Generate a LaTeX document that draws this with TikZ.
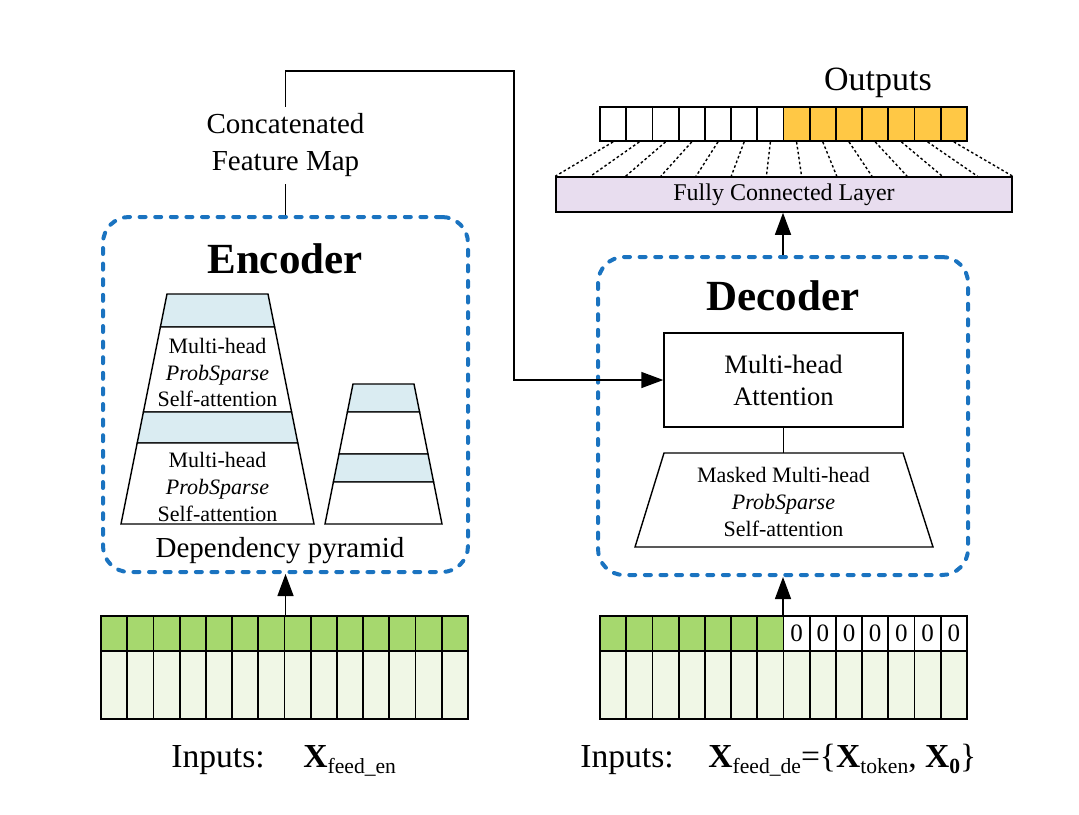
\documentclass[tikz,border=0pt]{standalone}
\usepackage{fontspec}
\setmainfont{Liberation Serif}
\usetikzlibrary{arrows.meta,positioning,calc,fit}
\definecolor{BoxBlue}{HTML}{1A73C0}
\definecolor{BandBlue}{HTML}{DAECF2}
\definecolor{FCLilac}{HTML}{E8DDEF}
\definecolor{OutGold}{HTML}{FFC845}
\definecolor{InGreen}{HTML}{A6D86E}
\definecolor{InPale}{HTML}{F0F7E6}
\newcommand{\xsub}[1]{\raisebox{-3pt}{\fontsize{10.8}{12}\selectfont #1}}

\begin{document}
\begin{tikzpicture}[x=0.5pt,y=-0.5pt,
    blk/.style={
      draw=BoxBlue,
      line width=2pt,
      line cap=round,
      dash pattern=on 3pt off 4.8pt,
      rounded corners=13pt,
      inner sep=0pt
    },
    cell/.style={draw, line width=0.9pt, minimum width=13.1pt, inner sep=0pt},
    layer/.style={draw, line width=0.7pt},
    link/.style={line width=0.7pt},
    arr/.style={link, -{Triangle[length=11pt,width=8pt]}},
    lbl/.style={font=\fontsize{14.5}{18.5}\selectfont, align=center},
    smalltxt/.style={font=\fontsize{11}{13.3}\selectfont, align=center},
    headtxt/.style={font=\bfseries\fontsize{21.5}{24}\selectfont},
    inptxt/.style={font=\fontsize{16.8}{20}\selectfont}
  ]
  \useasboundingbox (0,0) rectangle (1079,814);

  % Encoder
  \node[blk, fit={(103,217) (468,572)}] (enc) {};
  \node[headtxt] (enctitle) at (285,259) {Encoder};
  \foreach \cx/\hw/\yt/\ya/\yb/\c in {
      217.5/50.5/294/294/327/BandBlue, 217.5/50.5/294/327/412/white,
      217.5/50.5/294/412/443/BandBlue, 217.5/50.5/294/443/524/white,
      383.5/30.5/384/384/412/BandBlue, 383.5/30.5/384/412/454/white,
      383.5/30.5/384/454/482/BandBlue, 383.5/30.5/384/482/524/white}{
    \filldraw[layer, fill=\c]
      ({\cx-\hw-0.2*(\ya-\yt)},\ya) -- ({\cx+\hw+0.2*(\ya-\yt)},\ya) --
      ({\cx+\hw+0.2*(\yb-\yt)},\yb) -- ({\cx-\hw-0.2*(\yb-\yt)},\yb) -- cycle;
  }
  \node[smalltxt] (att1) at (217.5,372.5)
    {Multi-head\\\textit{ProbSparse}\\Self-attention};
  \node[smalltxt] (att2) at (217.5,487)
    {Multi-head\\\textit{ProbSparse}\\Self-attention};
  \node[lbl, anchor=base] (pyr) at (280,557) {Dependency pyramid};

  % Decoder
  \node[blk, fit={(598,257) (968,575)}] (dec) {};
  \node[headtxt] (dectitle) at (783,296) {Decoder};
  \node[draw, link, minimum width=119.5pt, minimum height=47pt,
        font=\fontsize{13.3}{16}\selectfont, align=center]
    (mha) at (783.5,380) {Multi-head\\Attention};
  \draw[layer] (664,453) -- (903,453) -- (933,547) -- (635,547) -- cycle;
  \coordinate (mskTop) at (783.5,453);
  \node[smalltxt] (msk) at (783.5,502)
    {Masked Multi-head\\\textit{ProbSparse}\\Self-attention};
  \draw[link] (mha.south) -- (mskTop);

  % Concatenated feature map
  \node[lbl] (concat) at (285.5,145.5) {Concatenated\\Feature Map};
  \coordinate (turnA) at (285.5,71);
  \coordinate (turnB) at (514,71);
  \draw[link] (enc.north) -- (concat.south);
  \draw[arr] (concat.north) -- (turnA) -- (turnB) |- (mha.west);

  % Fully connected layer and outputs
  \node[draw, link, fill=FCLilac, minimum width=228pt, minimum height=17.5pt,
        font=\fontsize{12}{14}\selectfont]
    (fc) at (784,194.5) {Fully Connected Layer};
  \draw[arr] (dec.north) -- (dec.north |- fc.south);
  \foreach \i in {0,...,6}
    \node[cell, fill=white, minimum height=17pt] (o\i)
      at ({600+26.21*(\i+0.5)},124) {};
  \foreach \i in {7,...,13}
    \node[cell, fill=OutGold, minimum height=17pt] (o\i)
      at ({600+26.21*(\i+0.5)},124) {};
  \foreach \i in {0,...,13}
    \draw[link, dash pattern=on 1.3pt off 1.2pt]
      (o\i.south) -- ($(fc.north west)!{\i/13}!(fc.north east)$);
  \node[font=\fontsize{17}{20}\selectfont] (outlbl) at (878,83) {Outputs};

  % Encoder inputs
  \foreach \i in {0,...,13}{
    \node[cell, fill=InGreen, minimum height=17.5pt] (ea\i)
      at ({101+26.21*(\i+0.5)},633.5) {};
    \node[cell, fill=InPale, minimum height=34pt] (eb\i)
      at ({101+26.21*(\i+0.5)},685) {};
  }
  \node[fit={(101,616) (468,719)}, inner sep=0pt] (encin) {};
  \draw[arr] (enc.south |- encin.north) -- (enc.south);
  \node[inptxt, anchor=base] (encinlbl) at (218,767) {Inputs:};
  \node[inptxt, anchor=base west, inner sep=0pt] (encx) at (303,767)
    {\textbf{X}\xsub{feed\_en}};

  % Decoder inputs
  \foreach \i in {0,...,6}
    \node[cell, fill=InGreen, minimum height=17.5pt] (da\i)
      at ({600+26.21*(\i+0.5)},633.5) {};
  \foreach \i in {7,...,13}
    \node[cell, fill=white, minimum height=17.5pt,
          font=\fontsize{12.5}{14}\selectfont] (da\i)
      at ({600+26.21*(\i+0.5)},633.5) {0};
  \foreach \i in {0,...,13}
    \node[cell, fill=InPale, minimum height=34pt] (db\i)
      at ({600+26.21*(\i+0.5)},685) {};
  \node[fit={(600,616) (967,719)}, inner sep=0pt] (decin) {};
  \draw[arr] (dec.south |- decin.north) -- (dec.south);
  \node[inptxt, anchor=base] (decinlbl) at (627,767) {Inputs:};
  \node[inptxt, anchor=base west, inner sep=0pt] (decx) at (708,767)
    {\textbf{X}\xsub{feed\_de}=\{\textbf{X}\xsub{token},
     \textbf{X}\xsub{\textbf{0}}\}};

\end{tikzpicture}
\end{document}
